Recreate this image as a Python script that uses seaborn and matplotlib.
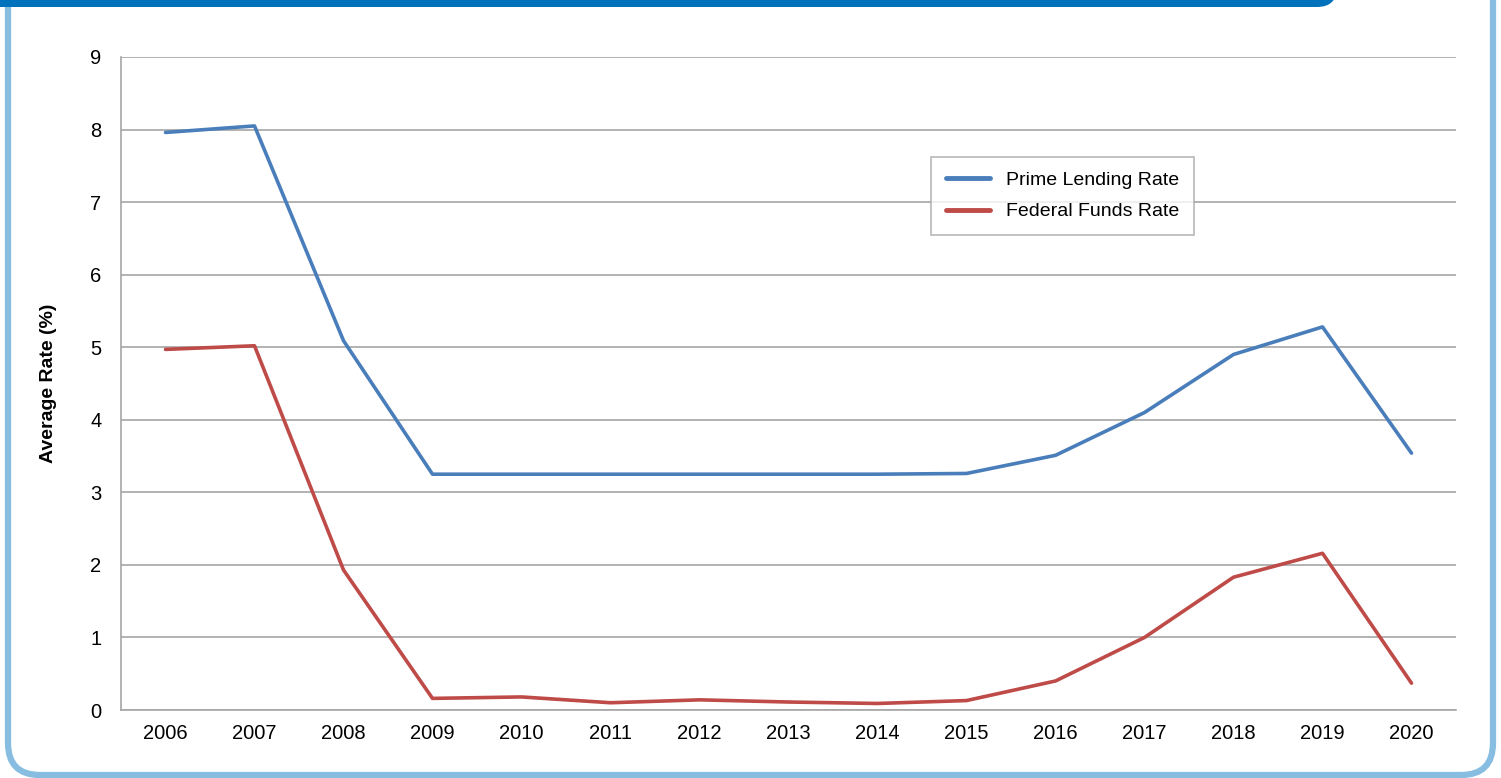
import matplotlib
matplotlib.use("Agg")
import matplotlib.pyplot as plt
from matplotlib.patches import FancyBboxPatch
from matplotlib.lines import Line2D
import pandas as pd
import seaborn as sns

years = ["2006", "2007", "2008", "2009", "2010", "2011", "2012", "2013",
         "2014", "2015", "2016", "2017", "2018", "2019", "2020"]
prime_rate = [7.96, 8.05, 5.09, 3.25, 3.25, 3.25, 3.25, 3.25,
              3.25, 3.26, 3.51, 4.10, 4.90, 5.28, 3.54]
fed_rate = [4.97, 5.02, 1.93, 0.16, 0.18, 0.10, 0.14, 0.11,
            0.09, 0.13, 0.40, 1.00, 1.83, 2.16, 0.37]
series_names = ["Prime Lending Rate", "Federal Funds Rate"]
y_ticks = [0, 1, 2, 3, 4, 5, 6, 7, 8, 9]

sns.set_style("white")
plt.rcParams["font.family"] = ["Liberation Sans", "DejaVu Sans"]
plt.rcParams["text.color"] = "black"
plt.rcParams["xtick.color"] = "black"
plt.rcParams["ytick.color"] = "black"
plt.rcParams["axes.labelcolor"] = "black"

W, H = 1501, 778
fig = plt.figure(figsize=(W / 100, H / 100), dpi=100)

# background decoration layer in pixel coordinates
bg = fig.add_axes([0, 0, 1, 1], zorder=0)
bg.set_xlim(0, W)
bg.set_ylim(H, 0)
bg.axis("off")
border = FancyBboxPatch((8, -60), 1485, 835, boxstyle="round,pad=0,rounding_size=32",
                        facecolor="white", edgecolor="#86bde0", linewidth=4.5)
bg.add_patch(border)
header = FancyBboxPatch((-60, -60), 1397, 67, boxstyle="round,pad=0,rounding_size=20",
                        facecolor="#0072bc", edgecolor="none")
bg.add_patch(header)

df = pd.DataFrame({
    "idx": list(range(len(years))) * 2,
    "rate": prime_rate + fed_rate,
    "series": [series_names[0]] * len(years) + [series_names[1]] * len(years),
})

ax = fig.add_axes([121 / W, 1 - 710 / H, (1456 - 121) / W, (710 - 57) / H], zorder=1)
ax.patch.set_alpha(0)
sns.lineplot(data=df, x="idx", y="rate", hue="series", hue_order=series_names,
             palette=["#4a7ebb", "#be4b48"], linewidth=2.6, ax=ax, legend=False,
             zorder=3)

ax.set_xlim(-0.5, len(years) - 0.5)
ax.set_ylim(0, 9)
ax.set_yticks(y_ticks)
ax.set_yticklabels([str(t) for t in y_ticks], fontsize=14.5)
ax.yaxis.grid(True, color="#a6a6a6", linewidth=1.2)
ax.set_axisbelow(True)

ax.set_xticks(range(len(years)))
ax.set_xticklabels(years, fontsize=14.5)
ax.set_xticks([i - 0.5 for i in range(len(years) + 1)], minor=True)
ax.tick_params(axis="x", which="major", length=0, pad=10)
ax.tick_params(axis="x", which="minor", length=5, width=1.2, color="#a6a6a6", direction="out")
ax.tick_params(axis="y", which="major", length=6, width=1.2, color="#a6a6a6", direction="out", pad=8)
for s in ["top", "right"]:
    ax.spines[s].set_visible(False)
for s in ["left", "bottom"]:
    ax.spines[s].set_color("#a6a6a6")
    ax.spines[s].set_linewidth(1.2)

ax.set_xlabel("")
ax.set_ylabel("Average Rate (%)", fontsize=14, fontweight="bold", labelpad=24)

handles = [Line2D([0], [0], color="#4a7ebb", linewidth=3.5),
           Line2D([0], [0], color="#be4b48", linewidth=3.5)]
leg = ax.legend(handles, series_names, loc="upper left",
                bbox_to_anchor=((931 - 121) / (1456 - 121), (710 - 157) / (710 - 57)),
                borderaxespad=0, fontsize=14, frameon=True, fancybox=False,
                handlelength=2.3, handletextpad=0.8, borderpad=0.75,
                labelspacing=0.7)
leg.get_frame().set_edgecolor("#a6a6a6")
leg.get_frame().set_linewidth(1.2)

fig.savefig("out.png", dpi=100)
